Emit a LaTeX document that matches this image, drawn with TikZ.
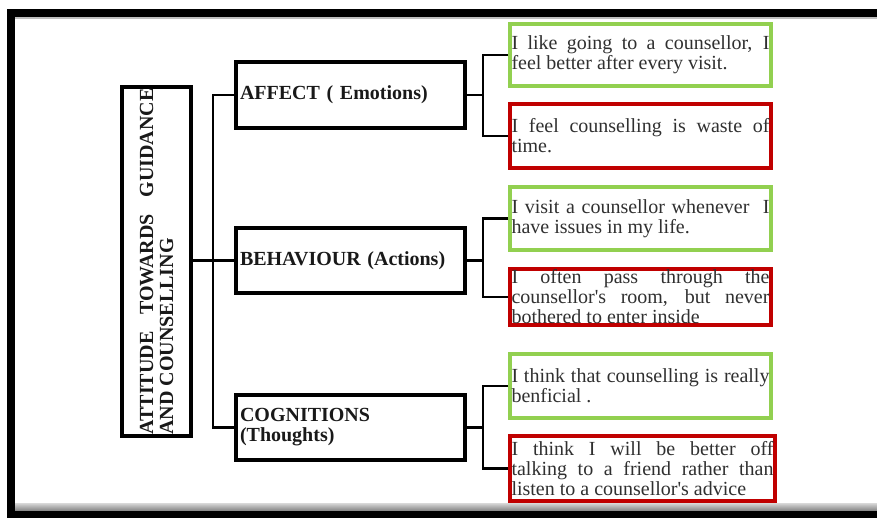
\documentclass[tikz,border=0pt]{standalone}
\usepackage{fontspec}
\setmainfont{Liberation Serif}
\usetikzlibrary{shadows}
\definecolor{lgreen}{HTML}{92D050}
\definecolor{dred}{HTML}{C00000}
\definecolor{txt}{HTML}{303030}
\tolerance=10000
\hbadness=10000
\begin{document}
\begin{tikzpicture}[x=1pt,y=-1pt,
  shad/.style={drop shadow={shadow xshift=1.5pt,shadow yshift=-2pt,opacity=0.3}},
  bigbox/.style={draw=black,line width=4pt,fill=white,shad,inner ysep=0pt,
    font=\fontsize{20}{20}\selectfont\bfseries,text=black!90},
  catbox/.style={bigbox,minimum width=229pt,minimum height=65pt,text width=221pt,
    inner xsep=4pt,align=left},
  leafbox/.style={line width=4pt,fill=white,shad,minimum width=261pt,text width=258pt,
    inner xsep=1.5pt,inner ysep=0pt,align=justify,text=txt,
    font=\fontsize{20}{20}\selectfont},
  posleaf/.style={leafbox,draw=lgreen},
  negleaf/.style={leafbox,draw=dred},
  conn/.style={line width=2.5pt}
]
\useasboundingbox (0,0) rectangle (877,518);
% frame
\fill[black] (7,9) rectangle (877,17);
\fill[black!25] (15,17) rectangle (877,19);
\fill[black] (7,9) rectangle (15,518);
\shade[top color=black!15,bottom color=black!50] (15,503) rectangle (877,511);
\fill[black] (7,511) rectangle (877,518);

% main box
\node[bigbox,rotate=90,minimum width=349pt,minimum height=69pt,text width=346pt,
  inner xsep=1.5pt,align=justify] (att) at (156.5,261.5)
  {ATTITUDE TOWARDS GUIDANCE\linebreak AND COUNSELLING};

% categories
\node[catbox,minimum height=66pt] (aff) at (350.5,95) {AFFECT ( Emotions)};
\node[catbox] (beh) at (350.5,260.5) {BEHAVIOUR (Actions)};
\node[catbox] (cog) at (350.5,427.5) {COGNITIONS\\(Thoughts)};

% leaves
\node[posleaf,minimum height=62pt] (g1) at (640.5,55)
  {I like going to a counsellor, I\linebreak feel better after every visit.};
\node[negleaf,minimum height=64pt] (r1) at (640.5,136)
  {I feel counselling is waste of\linebreak time.};
\node[posleaf,minimum height=63pt] (g2) at (640.5,218.5)
  {I visit a counsellor whenever\ \ I\linebreak have issues in my life.};
\node[negleaf,minimum height=56pt] (r2) at (640.5,297)
  {I often pass through the\linebreak counsellor\textquotesingle s room, but never\linebreak bothered to enter inside};
\node[posleaf,minimum height=64pt] (g3) at (640.5,386)
  {I think that counselling is really\linebreak benficial .};
\node[negleaf,minimum height=65pt,minimum width=265pt,text width=262pt] (r3) at (642.5,468.5)
  {I think I will be better off\linebreak talking to a friend rather than\linebreak listen to a counsellor\textquotesingle s advice};

% left connectors
\draw[conn] (beh.west) -- (beh.west -| att.south);
\draw[conn] (aff.west) -- ++(-21,0) |- (cog.west);

% right brackets
\draw[conn] (g1.west) -- ++(-25,0) coordinate (k1) |- (r1.west);
\draw[conn] (aff.east) -- (aff.east -| k1);
\draw[conn] (g2.west) -- ++(-25,0) coordinate (k2) |- (r2.west);
\draw[conn] (beh.east) -- (beh.east -| k2);
\draw[conn] (g3.west) -- ++(-25,0) coordinate (k3) |- (r3.west);
\draw[conn] (cog.east) -- (cog.east -| k3);
\end{tikzpicture}
\end{document}
